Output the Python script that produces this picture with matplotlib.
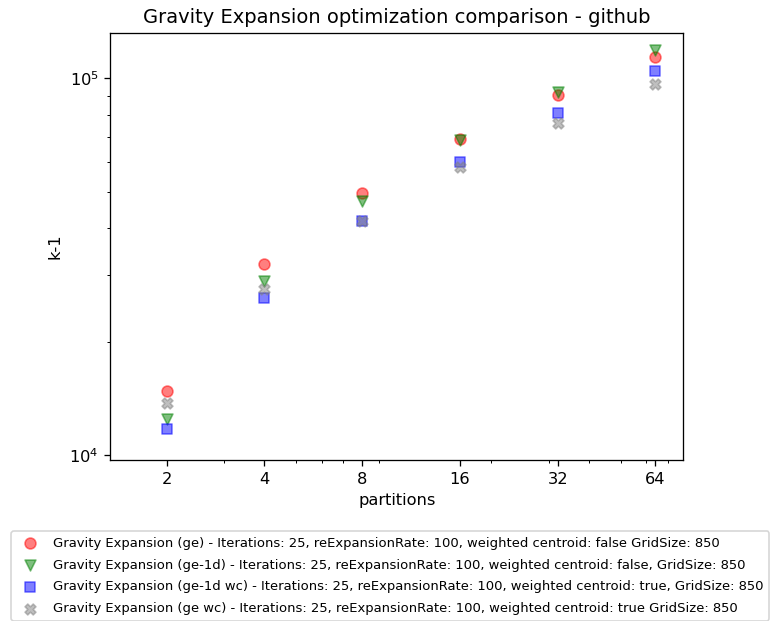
import numpy as np
import matplotlib
matplotlib.use('Agg')
import matplotlib.pyplot as plt
from matplotlib.ticker import NullFormatter

# partitions on x
partitions = [2, 4, 8, 16, 32, 64]

# k-1 values
ge = [14800, 32100, 49700, 69000, 90400, 113600]
ge_1d = [12450, 28900, 47200, 68500, 92100, 118600]
ge_1d_wc = [11700, 26200, 41900, 60100, 80700, 104400]
ge_wc = [13760, 27540, 41900, 58000, 75900, 96600]

labels = ['Gravity Expansion (ge) - Iterations: 25, reExpansionRate: 100, weighted centroid: false GridSize: 850',
          'Gravity Expansion (ge-1d) - Iterations: 25, reExpansionRate: 100, weighted centroid: false, GridSize: 850',
          'Gravity Expansion (ge-1d wc) - Iterations: 25, reExpansionRate: 100, weighted centroid: true, GridSize: 850',
          'Gravity Expansion (ge wc) - Iterations: 25, reExpansionRate: 100, weighted centroid: true GridSize: 850']

dpi = 117
fig = plt.figure(figsize=(781 / dpi, 621 / dpi), dpi=dpi)
ax = fig.add_axes([0.141, 0.259, 0.734, 0.688])

ax.scatter(partitions, ge, c='red', marker='o', s=45, alpha=0.5, label=labels[0])
ax.scatter(partitions, ge_1d, c='green', marker='v', s=45, alpha=0.5, label=labels[1])
ax.scatter(partitions, ge_1d_wc, c='blue', marker='s', s=45, alpha=0.5, label=labels[2])
ax.scatter(partitions, ge_wc, c='gray', marker='X', s=45, alpha=0.5, label=labels[3])

ax.set_xscale('log')
ax.set_yscale('log')
ax.set_xlim(1.34, 78)
ax.set_ylim(9700, 132000)
ax.set_xticks(partitions)
ax.set_xticklabels([str(p) for p in partitions])
ax.xaxis.set_minor_formatter(NullFormatter())
ax.yaxis.set_minor_formatter(NullFormatter())

ax.set_title('Gravity Expansion optimization comparison - github')
ax.set_xlabel('partitions')
ax.set_ylabel('k-1')

fig.legend(loc='upper left', bbox_to_anchor=(0.006, 0.155), fontsize=8.1,
           labelspacing=0.68)

plt.savefig('out.png', dpi=dpi)
